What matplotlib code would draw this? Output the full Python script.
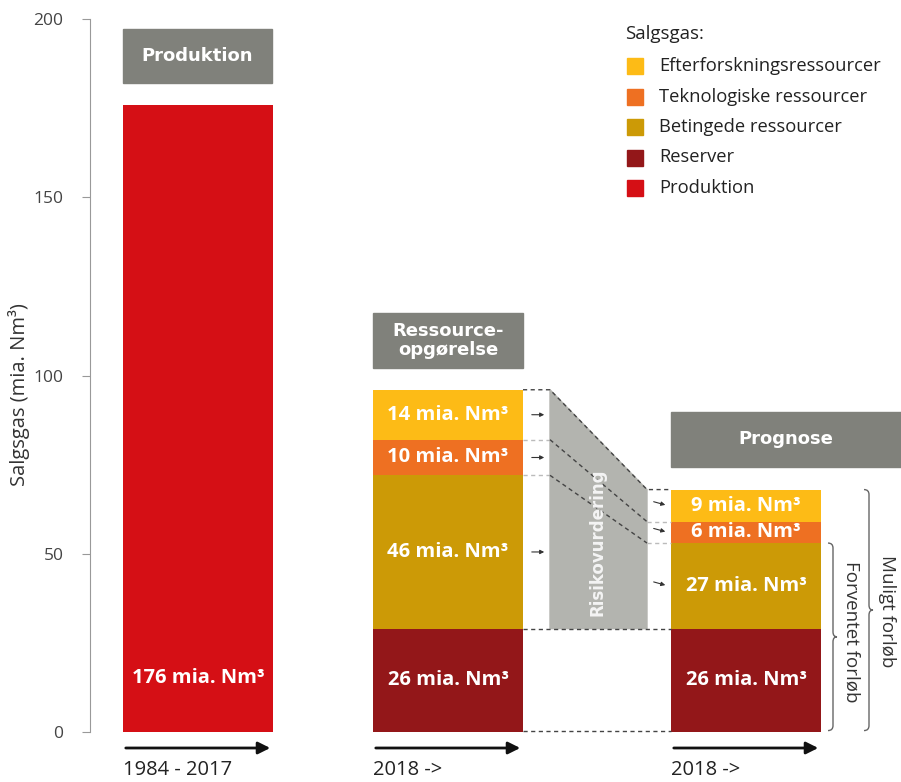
# -*- coding: utf-8 -*-
import numpy as np
import matplotlib.pyplot as plt
from matplotlib.patches import Rectangle, Polygon, PathPatch
from matplotlib.path import Path

# kategorier og farver (legend-raekkefoelge)
kategorier = ['Efterforskningsressourcer', 'Teknologiske ressourcer',
              'Betingede ressourcer', 'Reserver', 'Produktion']
farver = ['#fdbb16', '#ee7022', '#cc9a06', '#931719', '#d50f15']

perioder = ['1984 - 2017', '2018 ->', '2018 ->']
overskrifter = ['Produktion', 'Ressource-\nopgørelse', 'Prognose']

produktion = 176
# stakke nedefra: reserver, betingede, teknologiske, efterforskning
opgoerelse = [29, 43, 10, 14]
prognose = [29, 24, 6, 9]
opg_tekst = [26, 46, 10, 14]
prog_tekst = [26, 27, 6, 9]
stak_farver = [farver[3], farver[2], farver[1], farver[0]]

plt.rcParams['font.family'] = ['Open Sans', 'DejaVu Sans']

def ypx(p):
    # pixel-hoejde i billedet -> dataenheder
    return (732 - p) * 200 / 713.0

fig = plt.figure(figsize=(9.01, 7.82), dpi=100)
ax = fig.add_axes([90/901, 50/782, 811/901, 713/782])
ax.set_xlim(90, 901)
ax.set_ylim(0, 200)

bar_x = [123, 373, 671]
b = 150
bold = dict(family='Open Sans', weight='bold', color='white', fontsize=14.5,
            ha='center', va='center')

# produktion
ax.bar(bar_x[0], produktion, width=b, align='edge', color=farver[4], zorder=2)
ax.text(bar_x[0] + b/2, ypx(678), '%d mia. Nm³' % produktion, **bold)

# ressourceopgoerelse og prognose
for x, vals, txt in [(bar_x[1], opgoerelse, opg_tekst), (bar_x[2], prognose, prog_tekst)]:
    bund = 0
    for v, t, c in zip(vals, txt, stak_farver):
        ax.bar(x, v, width=b, bottom=bund, align='edge', color=c, zorder=2)
        ax.text(x + b/2, bund + v/2, '%d mia. Nm³' % t, zorder=3, **bold)
        bund += v

cum_opg = np.cumsum(opgoerelse)
cum_prog = np.cumsum(prognose)

# gra overskriftsbokse
bokse = [(123, 149, 29, 83), (373, 150, 313, 368), (671, 230, 412, 467)]
for (x, w, p0, p1), t in zip(bokse, overskrifter):
    ax.add_patch(Rectangle((x, ypx(p1)), w, ypx(p0) - ypx(p1), color='#80817b', zorder=2))
    ax.text(x + w/2, (ypx(p0) + ypx(p1))/2, t, family='DejaVu Sans', weight='bold',
            color='white', fontsize=13, ha='center', va='center', linespacing=1.05)

# risikovurdering
x1, x2 = 550, 647
ax.add_patch(Polygon([(x1, cum_opg[-1]), (x2, cum_prog[-1]), (x2, cum_prog[0]), (x1, cum_opg[0])],
                     closed=True, color='#b3b4af', zorder=1))
ax.text(597, ypx(542), 'Risikovurdering', rotation=90, family='DejaVu Sans', weight='bold',
        color='#f4f4f4', fontsize=12, ha='center', va='center', zorder=5)

# stiplede linjer
xa, xb = bar_x[1] + b, bar_x[2]
mork = dict(color='#444444', lw=1, ls=(0, (3, 2.5)), zorder=4, clip_on=False)
lys = dict(color='#bbbbbb', lw=1, ls=(0, (3, 2.5)), zorder=4)
ax.plot([xa, x1, x2, xb], [cum_opg[3], cum_opg[3], cum_prog[3], cum_prog[3]], **mork)
for i in [1, 2]:
    ax.plot([xa, x1], [cum_opg[i], cum_opg[i]], **lys)
    ax.plot([x1, x2], [cum_opg[i], cum_prog[i]], **mork)
    ax.plot([x2, xb], [cum_prog[i], cum_prog[i]], **lys)
ax.plot([xa, xb], [cum_opg[0], cum_prog[0]], **mork)
ax.plot([xa, xb], [0.2, 0.2], **mork)

# smaa pile
pil = dict(arrowstyle='-|>', color='#333333', lw=0.8, mutation_scale=6)
for i in [1, 2, 3]:
    yc = cum_opg[i] - opgoerelse[i]/2
    ax.annotate('', xy=(547, yc), xytext=(529, yc), arrowprops=pil)
    yc = cum_prog[i] - prognose[i]/2
    ax.annotate('', xy=(668, yc), xytext=(651, yc + 1.3), arrowprops=pil)

# tuborgklammer
def klamme(x0, top, bund, w=5, spids=4, r=1.4):
    mid = (top + bund) / 2
    xv = x0 + w
    verts = [(x0, top), (xv, top), (xv, top - r), (xv, mid + r), (xv, mid), (xv + spids, mid),
             (xv, mid), (xv, mid - r), (xv, bund + r), (xv, bund), (x0, bund)]
    codes = [Path.MOVETO, Path.CURVE3, Path.CURVE3, Path.LINETO, Path.CURVE3, Path.CURVE3,
             Path.CURVE3, Path.CURVE3, Path.LINETO, Path.CURVE3, Path.CURVE3]
    ax.add_patch(PathPatch(Path(verts, codes), fill=False, ec='#666666', lw=1, clip_on=False))

klamme(864, cum_prog[-1], 0.4)
klamme(828, cum_prog[1], 0.4)
ax.text(887, cum_prog[-1]/2, 'Muligt forløb', rotation=-90, fontsize=13.5, color='#333333',
        ha='center', va='center')
ax.text(851, cum_prog[1]/2 + 1.5, 'Forventet forløb', rotation=-90, fontsize=13.5, color='#333333',
        ha='center', va='center')

# tidsakse-pile og tekster
for x, t in zip(bar_x, perioder):
    ax.annotate('', xy=(x + b, ypx(748)), xytext=(x, ypx(748)), annotation_clip=False,
                arrowprops=dict(arrowstyle='-|>', color='#111111', lw=2, mutation_scale=18))
    ax.text(x, ypx(770), t, fontsize=14.5, color='#222222', ha='left', va='center', clip_on=False)

# legend
ax.text(625, ypx(34), 'Salgsgas:', fontsize=13.5, color='#222222', ha='left', va='center')
for i, (k, c) in enumerate(zip(kategorier, farver)):
    yc = 66 + i * 30.5
    ax.add_patch(Rectangle((627, ypx(yc + 8)), 16, ypx(yc - 8) - ypx(yc + 8), color=c))
    ax.text(659, ypx(yc), k, fontsize=13.2, color='#222222', ha='left', va='center')

# akse
for s in ['top', 'right', 'bottom']:
    ax.spines[s].set_visible(False)
ax.spines['left'].set_color('#999999')
ax.set_xticks([])
ax.set_yticks([0, 50, 100, 150, 200])
ax.tick_params(axis='y', length=6, color='#999999', labelcolor='#444444', labelsize=12.5, pad=13)
ax.set_ylabel('Salgsgas (mia. Nm³)', fontsize=14.5, color='#333333')
ax.yaxis.set_label_coords(-0.074, 0.473)

plt.savefig('out.png', dpi=100)
